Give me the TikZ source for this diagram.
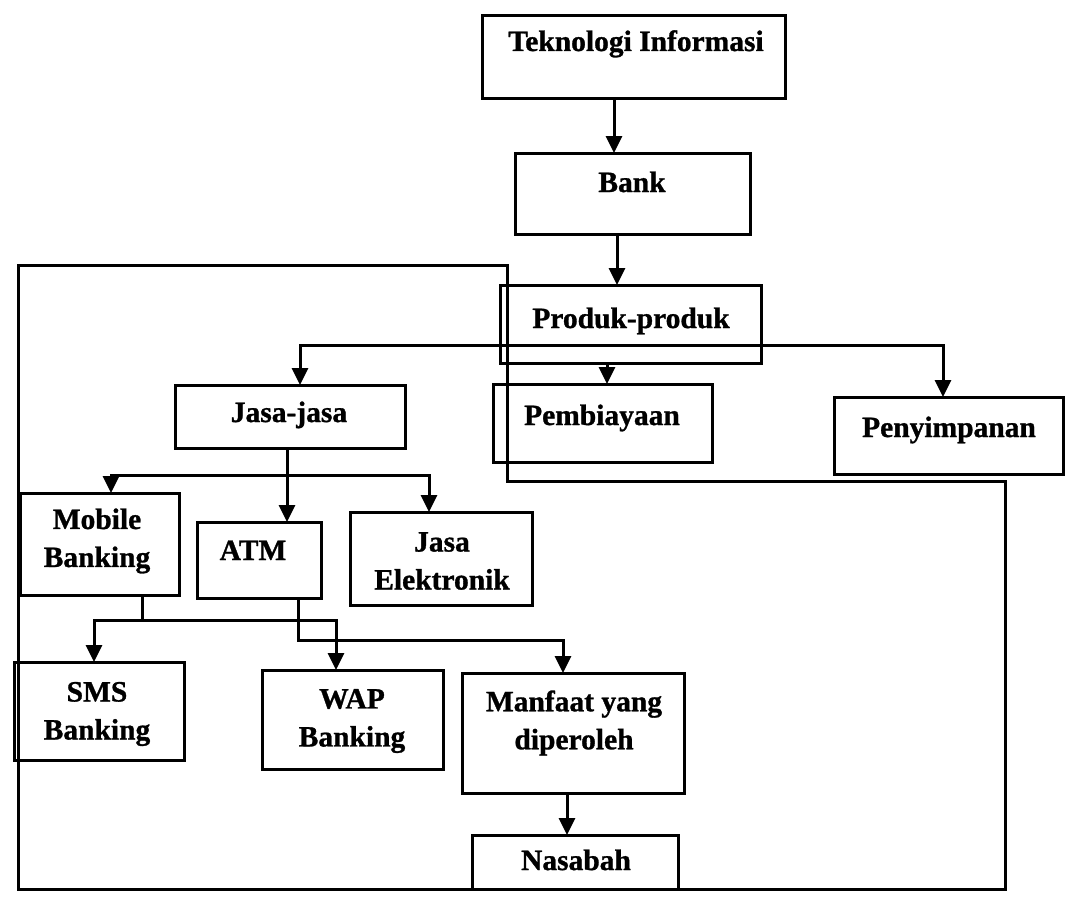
\documentclass[tikz,border=0pt]{standalone}
\usepackage{fontspec}
\setmainfont{Liberation Serif}[BoldFeatures={FakeBold=1}]
\usetikzlibrary{arrows.meta}
\begin{document}
\begin{tikzpicture}[x=1pt,y=-1pt,
  box/.style={draw=black,line width=3pt,rectangle,inner sep=0pt,outer sep=0pt,fill=none},
  txt/.style={font=\fontsize{29.5}{38}\selectfont\bfseries,align=center,inner sep=0pt},
  ln/.style={draw=black,line width=3pt,line join=miter},
  arr/.style={ln,-{Triangle[width=16pt,length=17pt]}},
  darr/.style={ln,{Triangle[width=16pt,length=17pt]}-{Triangle[width=16pt,length=17pt]}},
  frame/.style={draw=black,line width=3pt,line join=miter}]
\fill[white] (0,0) rectangle (1067,907);
\useasboundingbox (0,0) rectangle (1067,907);

% outer frame
\draw[frame] (18,265) -- (507,265) -- (507,481) -- (1005,481) -- (1005,889) -- (18,889) -- cycle;

% boxes
\node[box,minimum width=303pt,minimum height=82pt] (tek) at (633.5,57) {};
\node[box,minimum width=235pt,minimum height=81pt] (bank) at (632.5,193.5) {};
\node[box,minimum width=261pt,minimum height=78pt] (produk) at (630.5,324) {};
\node[box,minimum width=230pt,minimum height=63pt] (jasa) at (290,416.5) {};
\node[box,minimum width=219pt,minimum height=78pt] (pemb) at (602.5,423) {};
\node[box,minimum width=229pt,minimum height=77pt] (peny) at (948.5,435.5) {};
\node[box,minimum width=159pt,minimum height=102pt] (mob) at (99.5,544) {};
\node[box,minimum width=124pt,minimum height=76pt] (atm) at (259,560) {};
\node[box,minimum width=182pt,minimum height=93pt] (je) at (441,558.5) {};
\node[box,minimum width=170pt,minimum height=98pt] (sms) at (99,711) {};
\node[box,minimum width=181pt,minimum height=99pt] (wap) at (352.5,719.5) {};
\node[box,minimum width=222pt,minimum height=120pt] (manf) at (573,733) {};
\node[box,minimum width=206pt,minimum height=54pt] (nas) at (575,862) {};

% texts
\node[txt,anchor=base] (tekT) at (636,51) {Teknologi Informasi};
\node[txt,anchor=base] (bankT) at (632,192) {Bank};
\node[txt,anchor=base] (produkT) at (631,328) {Produk-produk};
\node[txt,anchor=base] (jasaT) at (289,422) {Jasa-jasa};
\node[txt,anchor=base] (pembT) at (602,425) {Pembiayaan};
\node[txt,anchor=base] (penyT) at (949,437) {Penyimpanan};
\node[txt] (mobT) at (97,541) {Mobile\\Banking};
\node[txt,anchor=base] (atmT) at (253,560) {ATM};
\node[txt] (jeT) at (442,561) {Jasa\\Elektronik};
\node[txt] (smsT) at (97,714) {SMS\\Banking};
\node[txt] (wapT) at (352,721) {WAP\\Banking};
\node[txt] (manfT) at (574,723) {Manfaat yang\\diperoleh};
\node[txt,anchor=base] (nasT) at (576,870) {Nasabah};

% connectors
\coordinate (x1) at (614,0);
\draw[arr] (tek.south -| x1) -- (bank.north -| x1);
\coordinate (x2) at (617,0);
\draw[arr] (bank.south -| x2) -- (produk.north -| x2);
\coordinate (b1l) at (300,345);
\coordinate (b1r) at (943,345);
\draw[darr] (jasa.north -| b1l) -- (b1l) -- (b1r) -- (peny.north -| b1r);
\coordinate (x3) at (607,0);
\draw[arr] (produk.south -| x3) -- (pemb.north -| x3);
\coordinate (x4) at (287,0);
\draw[arr] (jasa.south -| x4) -- (atm.north -| x4);
\coordinate (b2l) at (111,475);
\coordinate (b2r) at (429,475);
\draw[darr] (mob.north -| b2l) -- (b2l) -- (b2r) -- (je.north -| b2r);
\coordinate (x5) at (142,620);
\draw[ln] (mob.south -| x5) -- (x5);
\coordinate (b3l) at (94,620);
\coordinate (b3r) at (336,620);
\draw[darr] (sms.north -| b3l) -- (b3l) -- (b3r) -- (wap.north -| b3r);
\coordinate (x6) at (298,640);
\coordinate (b4r) at (563,640);
\draw[arr] (atm.south -| x6) -- (x6) -- (b4r) -- (manf.north -| b4r);
\coordinate (x7) at (567,0);
\draw[arr] (manf.south -| x7) -- (nas.north -| x7);
\end{tikzpicture}
\end{document}
